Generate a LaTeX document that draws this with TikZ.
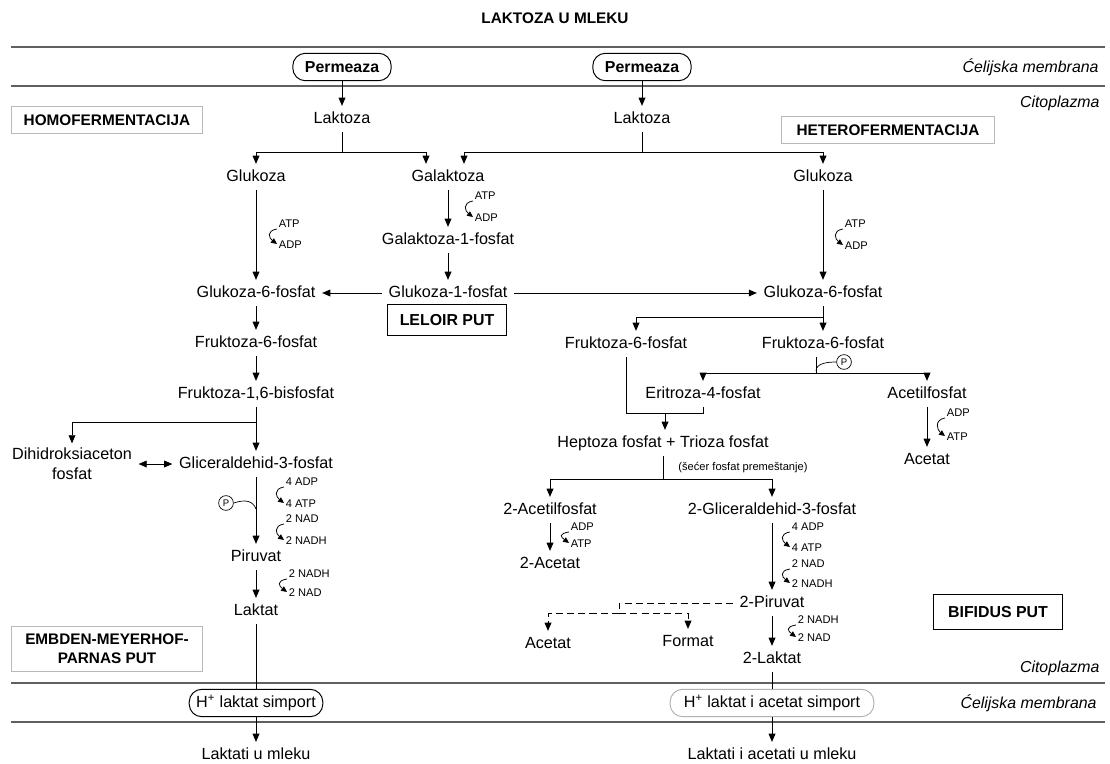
\documentclass[tikz,border=0pt]{standalone}
\usepackage{fontspec}
\setmainfont{Liberation Sans}
\usetikzlibrary{arrows.meta, positioning}

\begin{document}
\begin{tikzpicture}[
    x=0.025cm, y=-0.025cm,
    ->, >={Triangle[length=5.8pt, width=4.8pt]}, line width=0.65pt,
    met/.style={font=\fontsize{11.5}{13.5}\selectfont, inner xsep=4.5pt, inner ysep=3.6pt, text height=8.4pt, text depth=2.4pt},
    metl/.style={font=\fontsize{11.5}{14.2}\selectfont, align=center, inner xsep=4.5pt, inner ysep=3pt},
    cof/.style={font=\fontsize{7.9}{9}\selectfont, inner sep=1pt, anchor=west, text height=5.8pt, text depth=0pt},
    cofarr/.style={-{Triangle[length=4.2pt, width=3.8pt]}, line width=0.55pt},
    tag/.style={draw=gray!55, line width=0.7pt, font=\bfseries\fontsize{10.9}{13.5}\selectfont, align=center, inner sep=2pt},
    put/.style={draw, line width=1pt, font=\bfseries\fontsize{11.3}{13}\selectfont, inner sep=2pt},
    port/.style={draw, line width=0.7pt, rounded corners=9pt, minimum height=19.5pt, font=\fontsize{11.5}{13}\selectfont, inner xsep=4pt},
    zone/.style={font=\itshape\fontsize{11.3}{13}\selectfont, anchor=east, inner sep=0pt},
    phos/.style={circle, draw, line width=0.5pt, inner sep=0pt, minimum size=10.5pt, font=\fontsize{6.8}{7}\selectfont},
    membr/.style={-, draw=gray!75!black, line width=1pt}
]
    \useasboundingbox (0,0) rectangle (1110,763);

    % membrane
    \node[font=\bfseries\fontsize{10.9}{13}\selectfont] (title) at (555,18) {LAKTOZA U MLEKU};
    \draw[membr] (11,47) -- (1105,47);
    \draw[membr] (11,86) -- (1105,86);
    \draw[membr] (11,683) -- (1105,683);
    \draw[membr] (11,722) -- (1105,722);

    \node[port, font=\bfseries\fontsize{11.3}{13}\selectfont, minimum width=70pt] (perm1) at (342,67) {Permeaza};
    \node[port, font=\bfseries\fontsize{11.3}{13}\selectfont, minimum width=70pt] (perm2) at (642,67) {Permeaza};
    \node[zone] (mem1) at (1099,67) {Ćelijska membrana};
    \node[zone] (cyt1) at (1100,103) {Citoplazma};
    \node[tag, minimum width=136pt, minimum height=19pt] (homo) at (107,120) {HOMOFERMENTACIJA};
    \node[tag, minimum width=151pt, minimum height=19pt] (hetero) at (888,130) {HETEROFERMENTACIJA};

    % metabolites
    \node[met] (lak1) at (342,119) {Laktoza};
    \node[met] (lak2) at (642,119) {Laktoza};
    \node[met] (glu1) at (256,177) {Glukoza};
    \node[met] (gal) at (448,177) {Galaktoza};
    \node[met] (glu2) at (823,177) {Glukoza};
    \node[met] (gal1p) at (448,240) {Galaktoza-1-fosfat};
    \node[met] (g6p1) at (256,293) {Glukoza-6-fosfat};
    \node[met] (g1p) at (448,293) {Glukoza-1-fosfat};
    \node[met] (g6p2) at (823,293) {Glukoza-6-fosfat};
    \node[put, minimum width=85pt, minimum height=22pt] (leloir) at (447,320) {LELOIR PUT};
    \node[met] (f6p1) at (256,343) {Fruktoza-6-fosfat};
    \node[met] (f6p2) at (626,344) {Fruktoza-6-fosfat};
    \node[met] (f6p3) at (823,344) {Fruktoza-6-fosfat};
    \node[met] (fbp) at (256,394) {Fruktoza-1,6-bisfosfat};
    \node[met] (e4p) at (703,394) {Eritroza-4-fosfat};
    \node[met] (acp) at (927,394) {Acetilfosfat};
    \node[met] (hep) at (663,443) {Heptoza fosfat + Trioza fosfat};
    \node[met] (ac1) at (927,460) {Acetat};
    \node[cof, anchor=center] (sfp) at (743,466) {(šećer fosfat premeštanje)};
    \node[metl] (dhap) at (72,464) {Dihidroksiaceton\\fosfat};
    \node[met] (gap1) at (256,464) {Gliceraldehid-3-fosfat};
    \node[met] (acp2) at (550,510) {2-Acetilfosfat};
    \node[met] (g3p2) at (772,510) {2-Gliceraldehid-3-fosfat};
    \node[met] (pir1) at (256,557) {Piruvat};
    \node[met] (ac2) at (550,564) {2-Acetat};
    \node[met] (pir2) at (772,603) {2-Piruvat};
    \node[met] (lak3) at (256,611) {Laktat};
    \node[put, minimum width=92pt, minimum height=25pt] (bif) at (998,612) {BIFIDUS PUT};
    \node[met] (ac3) at (548,644) {Acetat};
    \node[met] (form) at (688,642) {Format};
    \node[tag, minimum width=136pt, minimum height=32pt] (emp) at (107,649) {EMBDEN-MEYERHOF-\\PARNAS PUT};
    \node[met] (lak4) at (772,659) {2-Laktat};
    \node[zone] (cyt2) at (1100,668) {Citoplazma};
    \node[port, minimum width=95pt] (simp1) at (256,703) {H\textsuperscript{+} laktat simport};
    \node[port, draw=gray!60, minimum width=145pt] (simp2) at (772,703) {H\textsuperscript{+} laktat i acetat simport};
    \node[zone] (mem2) at (1097,703) {Ćelijska membrana};
    \node[met] (milk1) at (256,755) {Laktati u mleku};
    \node[met] (milk2) at (772,755) {Laktati i acetati u mleku};

    % branch points
    \coordinate (br1) at (342,152);
    \coordinate (br1g) at (426,152);
    \coordinate (br2) at (642,152);
    \coordinate (br2g) at (464,152);
    \coordinate (br3) at (823,317);
    \coordinate (br3f) at (636,317);
    \coordinate (br4) at (816,373);
    \coordinate (br5) at (665,413);
    \coordinate (br6) at (663,479);
    \coordinate (br7) at (619,603);
    \coordinate (br8) at (619,613);
    \coordinate (br9) at (256,422);

    % uptake
    \draw (perm1) -- (lak1);
    \draw (perm2) -- (lak2);
    \draw[-] (lak1) -- (br1);
    \draw (br1) -| (glu1);
    \draw (br1) -- (br1g) -- (br1g |- gal.north);
    \draw[-] (lak2) -- (br2);
    \draw (br2) -| (glu2);
    \draw (br2) -- (br2g) -- (br2g |- gal.north);

    % homofermentacija + leloir
    \draw (glu1) -- (g6p1);
    \draw (gal) -- (gal1p);
    \draw (gal1p) -- (g1p);
    \draw (g1p) -- (g6p1);
    \draw (g1p) -- (g6p2);
    \draw (g6p1) -- (f6p1);
    \draw (f6p1) -- (fbp);
    \draw[-] (fbp) -- (br9);
    \draw (br9) -- (gap1);
    \draw (br9) -| (dhap);
    \draw[<->] (dhap) -- (gap1);
    \draw (gap1) -- (pir1);
    \draw (pir1) -- (lak3);
    \draw[-] (lak3) -- (simp1);
    \draw (simp1) -- (milk1);

    % heterofermentacija
    \draw (glu2) -- (g6p2);
    \draw (g6p2) -- (f6p3);
    \draw (br3) -- (br3f) -- (br3f |- f6p2.north);
    \draw[-] (br4 |- f6p3.south) -- (br4);
    \draw (br4) -| (e4p);
    \draw (br4) -| (acp);
    \draw[-] (f6p2) |- (br5);
    \draw[-] (e4p) |- (br5);
    \draw (br5) -- (br5 |- hep.north);
    \draw (acp) -- (ac1);
    \draw[-] (hep) -- (br6);
    \draw (br6) -| (acp2);
    \draw (br6) -| (g3p2);
    \draw (acp2) -- (ac2);
    \draw (g3p2) -- (pir2);
    \draw (pir2) -- (lak4);
    \draw[-, dash pattern=on 5pt off 3pt] (pir2) -- (br7) -- (br8);
    \draw[dash pattern=on 5pt off 3pt] (br8) -| (ac3);
    \draw[dash pattern=on 5pt off 3pt] (br8) -| (form);
    \draw[-] (lak4) -- (simp2);
    \draw (simp2) -- (milk2);

    % phosphate
    \node[phos] (ph1) at (226,503) {P};
    \coordinate (ph1end) at (256,509);
    \draw[-, line width=0.5pt] (ph1.east) .. controls +(12,-4) and +(-3,-8) .. (ph1end);
    \node[phos] (ph2) at (844,362) {P};
    \coordinate (ph2end) at (816,371);
    \draw[-, line width=0.5pt] (ph2end) .. controls +(0,-8) and +(-8,0) .. (ph2.west);

    % cofactors
    \node[cof] (atp1) at (277,223) {ATP};
    \node[cof] (adp1) at (277,244) {ADP};
    \draw[cofarr] (atp1.south west) .. controls +(-11,2) and +(-8,-6) .. (adp1.west);
    \node[cof] (atp2) at (473,195) {ATP};
    \node[cof] (adp2) at (473,217) {ADP};
    \draw[cofarr] (atp2.south west) .. controls +(-11,2) and +(-8,-6) .. (adp2.west);
    \node[cof] (atp3) at (843,223) {ATP};
    \node[cof] (adp3) at (843,245) {ADP};
    \draw[cofarr] (atp3.south west) .. controls +(-11,2) and +(-8,-6) .. (adp3.west);
    \node[cof] (adp4) at (284,481) {4 ADP};
    \node[cof] (atp4) at (284,503) {4 ATP};
    \draw[cofarr] (adp4.south west) .. controls +(-11,2) and +(-8,-6) .. (atp4.west);
    \node[cof] (nad1) at (284,518) {2 NAD};
    \node[cof] (nadh1) at (284,540) {2 NADH};
    \draw[cofarr] (nad1.south west) .. controls +(-11,2) and +(-8,-6) .. (nadh1.west);
    \node[cof] (nadh2) at (287,573) {2 NADH};
    \node[cof] (nad2) at (287,592) {2 NAD};
    \draw[cofarr] (nadh2.south west) .. controls +(-11,2) and +(-8,-6) .. (nad2.west);
    \node[cof] (adp5) at (945,412) {ADP};
    \node[cof] (atp5) at (945,436) {ATP};
    \draw[cofarr] (adp5.south west) .. controls +(-11,2) and +(-8,-6) .. (atp5.west);
    \node[cof] (adp6) at (569,526) {ADP};
    \node[cof] (atp6) at (569,543) {ATP};
    \draw[cofarr] (adp6.south west) .. controls +(-11,2) and +(-8,-6) .. (atp6.west);
    \node[cof] (adp7) at (790,526) {4 ADP};
    \node[cof] (atp7) at (790,547) {4 ATP};
    \draw[cofarr] (adp7.south west) .. controls +(-11,2) and +(-8,-6) .. (atp7.west);
    \node[cof] (nad3) at (790,563) {2 NAD};
    \node[cof] (nadh3) at (790,583) {2 NADH};
    \draw[cofarr] (nad3.south west) .. controls +(-11,2) and +(-8,-6) .. (nadh3.west);
    \node[cof] (nadh4) at (796,619) {2 NADH};
    \node[cof] (nad4) at (796,637) {2 NAD};
    \draw[cofarr] (nadh4.south west) .. controls +(-11,2) and +(-8,-6) .. (nad4.west);
\end{tikzpicture}
\end{document}
